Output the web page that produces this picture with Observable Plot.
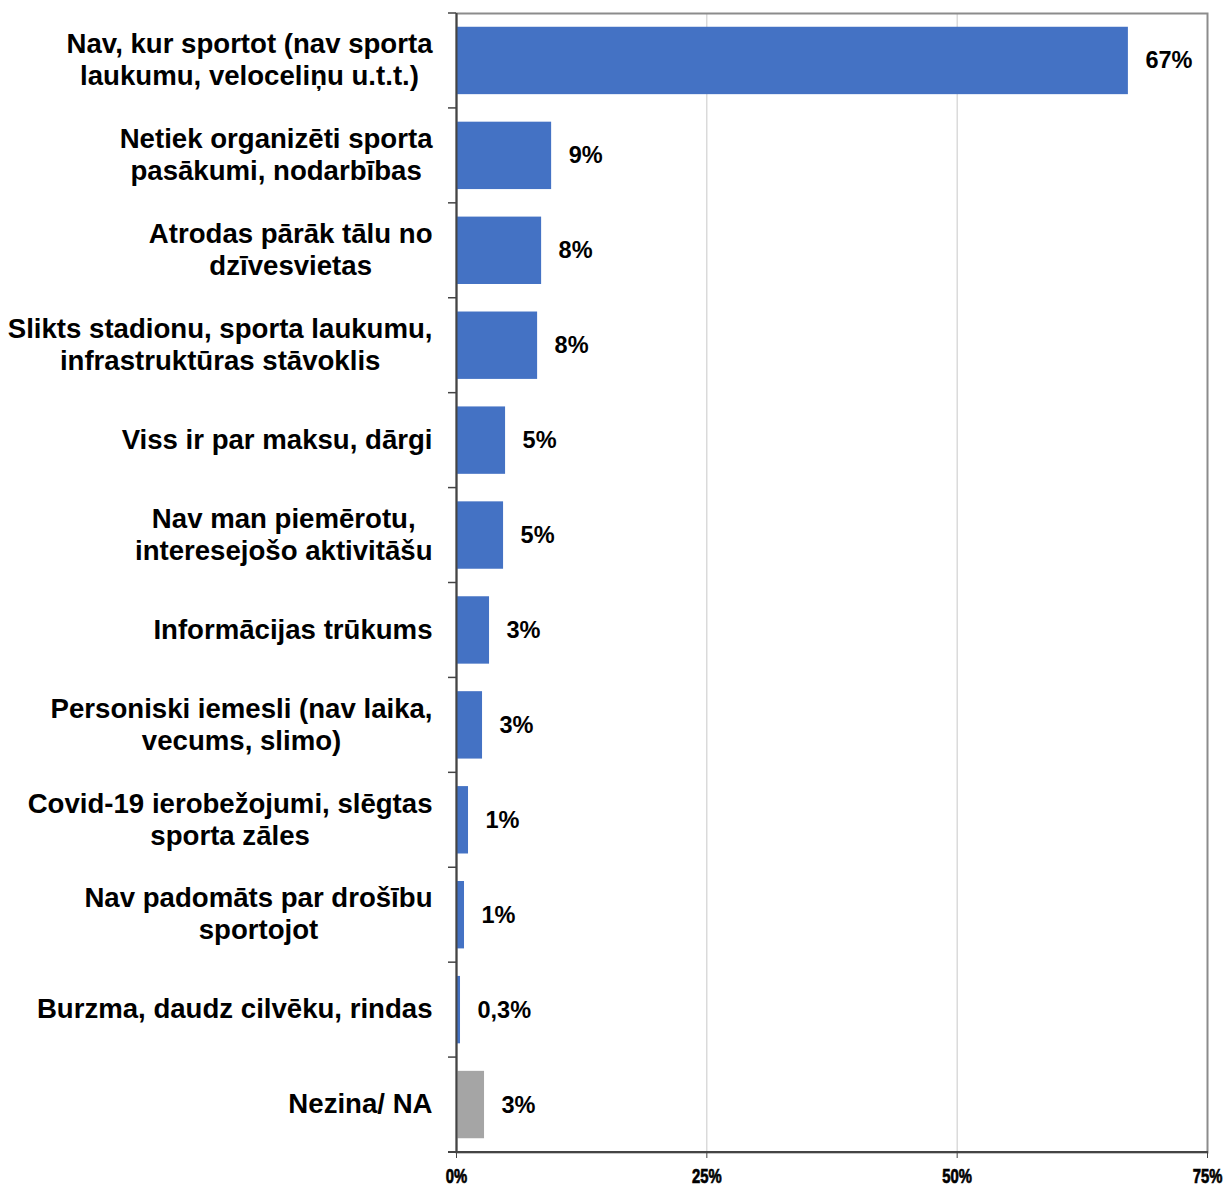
<!DOCTYPE html>
<html>
<head>
<meta charset="utf-8">
<script src="https://cdn.jsdelivr.net/npm/d3@7"></script>
<script src="https://cdn.jsdelivr.net/npm/@observablehq/plot@0.6"></script>
<style>
  html, body { margin: 0; padding: 0; background: #fff; }
  #chart svg { display: block; }
</style>
</head>
<body>
<div id="chart"></div>
<script>
// ---- data ----
const categories = [
  "Nav, kur sportot (nav sporta\nlaukumu, veloceliņu u.t.t.)",
  "Netiek organizēti sporta\npasākumi, nodarbības",
  "Atrodas pārāk tālu no\ndzīvesvietas",
  "Slikts stadionu, sporta laukumu,\ninfrastruktūras stāvoklis",
  "Viss ir par maksu, dārgi",
  "Nav man piemērotu,\ninteresejošo aktivitāšu",
  "Informācijas trūkums",
  "Personiski iemesli (nav laika,\nvecums, slimo)",
  "Covid-19 ierobežojumi, slēgtas\nsporta zāles",
  "Nav padomāts par drošību\nsportojot",
  "Burzma, daudz cilvēku, rindas",
  "Nezina/ NA"
];
const values = [67.1, 9.5, 8.5, 8.1, 4.9, 4.7, 3.3, 2.6, 1.2, 0.8, 0.4, 2.8];
const valueLabels = ["67%", "9%", "8%", "8%", "5%", "5%", "3%", "3%", "1%", "1%", "0,3%", "3%"];
const groups = ["answer","answer","answer","answer","answer","answer","answer","answer","answer","answer","answer","na"];
const xTicks = [0, 25, 50, 75];
const xGrid = [25, 50];

const data = categories.map((c, i) => ({cat: c, value: values[i], label: valueLabels[i], group: groups[i]}));

// ---- text measuring for centered multi-line labels, right-aligned block ----
const labelSize = 27.6;
const labelFamily = "'Liberation Sans', Arial, sans-serif";
const ctx = document.createElement("canvas").getContext("2d");
ctx.font = `bold ${labelSize}px Liberation Sans`;
function blockWidth(s) {
  return Math.max(...s.split("\n").map(l => ctx.measureText(l).width));
}
const labelGap = 24;

const labelMarks = data.map(d => Plot.text([d], {
  x: () => 0, y: "cat", text: "cat",
  textAnchor: "middle",
  dx: -labelGap - blockWidth(d.cat) / 2,
  dy: -2,
  lineHeight: 32 / labelSize,
  fontSize: labelSize, fontWeight: "bold",
  fontFamily: labelFamily,
  fill: "#000"
}));

// custom mark: bottom axis line + category boundary ticks
function axesLines(index, scales, values, dims) {
  const y = scales.y;
  const dom = categories;
  const step = y(dom[1]) - y(dom[0]);
  let bw = typeof y.bandwidth === "function" ? y.bandwidth() : y.bandwidth;
  if (!(bw > 0)) bw = step * 0.71;
  const x0 = dims.marginLeft;
  const x1 = dims.width - dims.marginRight;
  const yb = dims.height - dims.marginBottom;
  const g = d3.create("svg:g");
  const bounds = dom.map(c => y(c) - (step - bw) / 2);
  bounds.push(yb);
  g.selectAll("line.b").data(bounds).join("line")
    .attr("x1", x0 - 8).attr("x2", x0).attr("y1", d => d).attr("y2", d => d)
    .attr("stroke", "#444").attr("stroke-width", 1.5);
  g.append("line").attr("x1", x0 - 8).attr("x2", x1 + 1).attr("y1", yb).attr("y2", yb)
    .attr("stroke", "#444").attr("stroke-width", 2);
  return g.node();
}

const chart = Plot.plot({
  width: 1231,
  height: 1187,
  marginLeft: 456,
  marginRight: 24,
  marginTop: 13,
  marginBottom: 35,
  style: {background: "#fff"},
  x: {domain: [0, 75], axis: null},
  y: {domain: categories, paddingInner: 0.29, paddingOuter: 0.145, round: false, axis: null},
  color: {domain: ["answer", "na"], range: ["#4472C4", "#A5A5A5"]},
  marks: [
    Plot.ruleX(xGrid, {stroke: "#c8c8c8", strokeWidth: 1}),
    Plot.frame({stroke: "#8c8c8c", strokeWidth: 2}),
    Plot.barX(data, {x: "value", y: "cat", fill: "group"}),
    Plot.ruleX([0], {stroke: "#444", strokeWidth: 2}),
    axesLines,
    Plot.axisX(xTicks, {
      anchor: "bottom", tickSize: 6, tickPadding: 11, label: null,
      tickFormat: d => d + "%",
      stroke: "#444",
      fontSize: 19, fontWeight: "bold",
      fontFamily: "'Liberation Sans', Arial, sans-serif",
      fill: "#000"
    }),
    Plot.text(data, {
      x: "value", y: "cat", text: "label",
      textAnchor: "start", dx: 17,
      fontSize: 23.5, fontWeight: "bold",
      fontFamily: "'Liberation Sans', Arial, sans-serif",
      fill: "#000"
    }),
    ...labelMarks
  ]
});
// condense the x tick labels horizontally (reference uses a narrow, heavy face)
d3.select(chart).selectAll("g[aria-label='x-axis tick label'] text").each(function() {
  const t = this.getAttribute("transform") || "";
  this.setAttribute("transform", t + " scale(0.76,1)");
  this.style.fontSize = "19.5px";
  this.style.fontWeight = "bold";
  this.style.fontFamily = "'Liberation Sans', Arial, sans-serif";
  this.style.stroke = "#000";
  this.style.strokeWidth = "0.7px";
});
document.getElementById("chart").append(chart);
</script>
</body>
</html>
